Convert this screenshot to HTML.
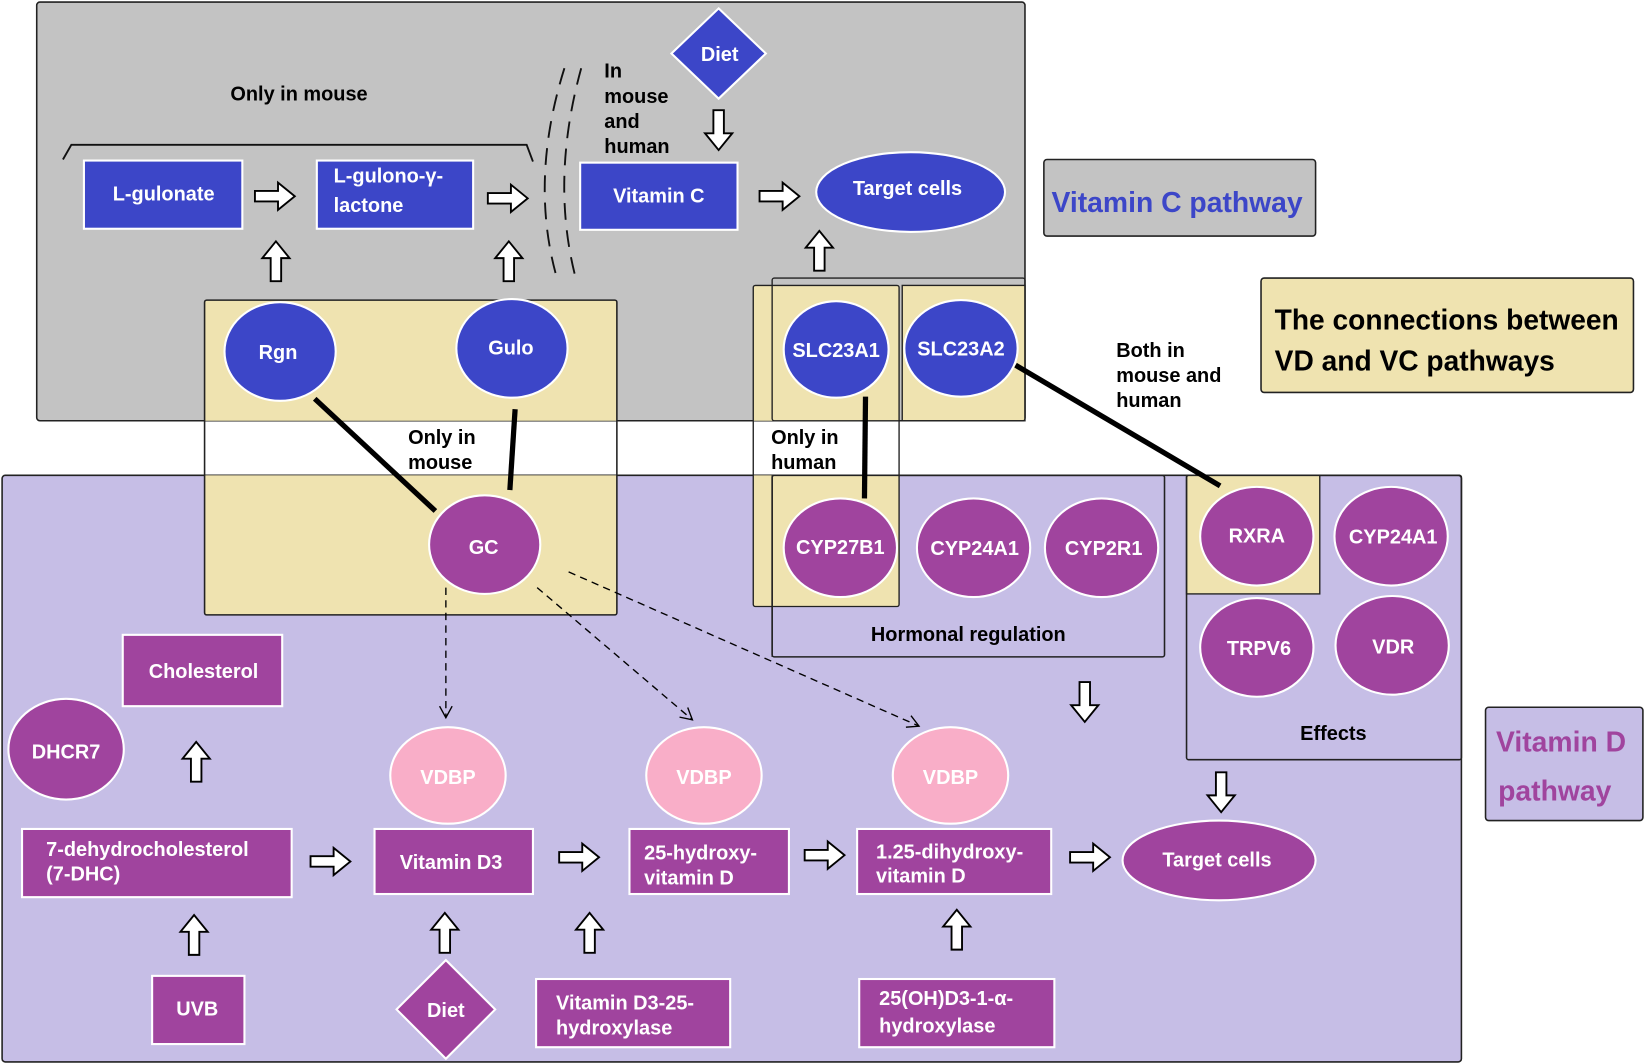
<!DOCTYPE html>
<html><head><meta charset="utf-8"><style>
html,body{margin:0;padding:0;background:#fff}
svg{display:block}
text{font-family:"Liberation Sans",Arial,sans-serif;font-weight:bold}
</style></head><body>
<svg width="1645" height="1064" viewBox="0 0 1568 1014" preserveAspectRatio="none" xmlns="http://www.w3.org/2000/svg">
<defs>
<g id="ar"><path d="M0,-5 H22 V-13 L38,0 L22,13 V5 H0 Z" fill="#fff" stroke="#000" stroke-width="1.8"/></g>
<marker id="mk" markerWidth="14" markerHeight="14" refX="12" refY="7" orient="auto" markerUnits="userSpaceOnUse"><path d="M1,1 L12,7 L1,13" fill="none" stroke="#000" stroke-width="1.3"/></marker>
</defs>
<rect x="35" y="2" width="942" height="399" rx="3" fill="#c3c3c3" stroke="#222" stroke-width="1.5"/>
<rect x="2" y="453" width="1391" height="559" rx="3" fill="#c6bee6" stroke="#222" stroke-width="1.5"/>
<rect x="195" y="286" width="393" height="115" fill="#efe3b0"/>
<rect x="195" y="453" width="393" height="133" fill="#efe3b0"/>
<rect x="195" y="286" width="393" height="300" rx="2" fill="none" stroke="#222" stroke-width="1.5"/>
<rect x="718" y="272" width="139" height="129" fill="#efe3b0"/>
<rect x="718" y="453" width="139" height="125" fill="#efe3b0"/>
<rect x="860" y="272" width="117" height="129" fill="#efe3b0"/>
<rect x="718" y="272" width="139" height="306" rx="2" fill="none" stroke="#222" stroke-width="1.3"/>
<rect x="736" y="265" width="241" height="136" rx="2" fill="none" stroke="#222" stroke-width="1.3"/>
<rect x="860" y="272" width="117" height="129" fill="none" stroke="#222" stroke-width="1.3"/>
<rect x="736" y="453" width="374" height="173" rx="2" fill="none" stroke="#222" stroke-width="1.5"/>
<line x1="736" y1="453" x2="736" y2="626" stroke="#222" stroke-width="1.3"/>
<rect x="1131" y="453" width="127" height="113" fill="#efe3b0" stroke="#222" stroke-width="1.3"/>
<rect x="1131" y="453" width="262" height="271" rx="2" fill="none" stroke="#222" stroke-width="1.5"/>
<rect x="995" y="152" width="259" height="73" rx="3" fill="#c3c3c3" stroke="#222" stroke-width="1.5"/>
<text x="1122" y="202" font-size="27" fill="#3c46c8" text-anchor="middle">Vitamin C pathway</text>
<rect x="1202" y="265" width="355" height="109" rx="3" fill="#efe3b0" stroke="#222" stroke-width="1.5"/>
<text x="1215" y="314" font-size="27" fill="#000" textLength="328" lengthAdjust="spacingAndGlyphs">The connections between</text>
<text x="1215" y="353" font-size="27" fill="#000" textLength="267" lengthAdjust="spacingAndGlyphs">VD and VC pathways</text>
<rect x="1416" y="674" width="150" height="108" rx="3" fill="#c6bee6" stroke="#222" stroke-width="1.5"/>
<text x="1426" y="716" font-size="27" fill="#a0449e">Vitamin D</text>
<text x="1428" y="763" font-size="27" fill="#a0449e">pathway</text>
<text x="285" y="96" font-size="19" text-anchor="middle">Only in mouse</text>
<text x="576" y="74" font-size="19">In</text>
<text x="576" y="98" font-size="19">mouse</text>
<text x="576" y="122" font-size="19">and</text>
<text x="576" y="146" font-size="19">human</text>
<text x="389" y="423" font-size="19">Only in</text>
<text x="389" y="447" font-size="19">mouse</text>
<text x="735" y="423" font-size="19">Only in</text>
<text x="735" y="447" font-size="19">human</text>
<text x="1064" y="340" font-size="19">Both in</text>
<text x="1064" y="364" font-size="19">mouse and</text>
<text x="1064" y="388" font-size="19">human</text>
<text x="923" y="611" font-size="19" text-anchor="middle">Hormonal regulation</text>
<text x="1271" y="705" font-size="19" text-anchor="middle">Effects</text>
<polyline points="60,152 68,138 502,138 508,154" fill="none" stroke="#111" stroke-width="1.8"/>
<path d="M538,65 Q505,170 530,262" fill="none" stroke="#111" stroke-width="1.8" stroke-dasharray="16,10"/>
<path d="M554,65 Q525,170 548,262" fill="none" stroke="#111" stroke-width="1.8" stroke-dasharray="16,10"/>
<g stroke="#000" stroke-width="5">
<line x1="300" y1="380" x2="415" y2="487"/>
<line x1="491" y1="390" x2="486" y2="467"/>
<line x1="825" y1="378" x2="824" y2="475"/>
<line x1="968" y1="348" x2="1163" y2="463"/>
</g>
<g stroke="#000" stroke-width="1.3" stroke-dasharray="7,5" fill="none" marker-end="url(#mk)">
<line x1="425" y1="560" x2="425" y2="684"/>
<line x1="512" y1="560" x2="660" y2="686"/>
<line x1="542" y1="545" x2="876" y2="692"/>
</g>
<g fill="#3c46c8" stroke="#fff" stroke-width="2">
<rect x="80" y="153" width="151" height="65"/>
<rect x="302" y="153" width="149" height="65"/>
<rect x="553" y="155" width="150" height="64"/>
<ellipse cx="868" cy="183" rx="90" ry="38"/>
<polygon points="685,8 730,51 685,94 640,51"/>
<ellipse cx="267" cy="335" rx="53" ry="47"/>
<ellipse cx="488" cy="332" rx="53" ry="47"/>
<ellipse cx="797" cy="333" rx="50" ry="46"/>
<ellipse cx="916" cy="332" rx="54" ry="46"/>
</g>
<g fill="#a0449e" stroke="#fff" stroke-width="2">
<ellipse cx="462" cy="519" rx="53" ry="47"/>
<ellipse cx="801" cy="522" rx="54" ry="47"/>
<ellipse cx="928" cy="522" rx="54" ry="47"/>
<ellipse cx="1050" cy="522" rx="54" ry="47"/>
<ellipse cx="1198" cy="511" rx="54" ry="47"/>
<ellipse cx="1326" cy="511" rx="54" ry="47"/>
<ellipse cx="1198" cy="617" rx="54" ry="47"/>
<ellipse cx="1327" cy="615" rx="54" ry="47"/>
<ellipse cx="63" cy="714" rx="55" ry="48"/>
<rect x="117" y="605" width="152" height="68"/>
<rect x="21" y="790" width="257" height="65"/>
<rect x="357" y="790" width="151" height="62"/>
<rect x="600" y="790" width="152" height="62"/>
<rect x="817" y="790" width="185" height="62"/>
<ellipse cx="1162" cy="820" rx="92" ry="38"/>
<rect x="145" y="930" width="88" height="65"/>
<polygon points="425,915 472,962 425,1009 378,962"/>
<rect x="511" y="933" width="185" height="65"/>
<rect x="819" y="933" width="186" height="65"/>
</g>
<g fill="#f9aec8" stroke="#fff" stroke-width="2">
<ellipse cx="427" cy="739" rx="55" ry="46"/>
<ellipse cx="671" cy="739" rx="55" ry="46"/>
<ellipse cx="906" cy="739" rx="55" ry="46"/>
</g>
<g fill="#fff" font-size="19" text-anchor="middle">
<text x="156" y="191">L-gulonate</text>
<text x="318" y="174" text-anchor="start">L-gulono-γ-</text>
<text x="318" y="202" text-anchor="start">lactone</text>
<text x="628" y="193">Vitamin C</text>
<text x="865" y="186">Target cells</text>
<text x="686" y="58">Diet</text>
<text x="265" y="342">Rgn</text>
<text x="487" y="338">Gulo</text>
<text x="797" y="340">SLC23A1</text>
<text x="916" y="339">SLC23A2</text>
<text x="461" y="528">GC</text>
<text x="801" y="528">CYP27B1</text>
<text x="929" y="529">CYP24A1</text>
<text x="1052" y="529">CYP2R1</text>
<text x="1198" y="517">RXRA</text>
<text x="1328" y="518">CYP24A1</text>
<text x="1200" y="624">TRPV6</text>
<text x="1328" y="623">VDR</text>
<text x="63" y="723">DHCR7</text>
<text x="194" y="646">Cholesterol</text>
<text x="44" y="816" text-anchor="start">7-dehydrocholesterol</text>
<text x="44" y="839" text-anchor="start">(7-DHC)</text>
<text x="430" y="828">Vitamin D3</text>
<text x="614" y="819" text-anchor="start">25-hydroxy-</text>
<text x="614" y="843" text-anchor="start">vitamin D</text>
<text x="835" y="818" text-anchor="start">1.25-dihydroxy-</text>
<text x="835" y="841" text-anchor="start">vitamin D</text>
<text x="1160" y="826">Target cells</text>
<text x="188" y="968">UVB</text>
<text x="425" y="969">Diet</text>
<text x="530" y="962" text-anchor="start">Vitamin D3-25-</text>
<text x="530" y="986" text-anchor="start">hydroxylase</text>
<text x="838" y="958" text-anchor="start">25(OH)D3-1-α-</text>
<text x="838" y="984" text-anchor="start">hydroxylase</text>
<text x="427" y="747">VDBP</text>
<text x="671" y="747">VDBP</text>
<text x="906" y="747">VDBP</text>
</g>
<use href="#ar" transform="translate(243,187)"/>
<use href="#ar" transform="translate(465,189)"/>
<use href="#ar" transform="translate(724,187)"/>
<use href="#ar" transform="translate(296,821)"/>
<use href="#ar" transform="translate(533,817)"/>
<use href="#ar" transform="translate(767,815)"/>
<use href="#ar" transform="translate(1020,817)"/>
<use href="#ar" transform="translate(263,268) rotate(-90)"/>
<use href="#ar" transform="translate(485,268) rotate(-90)"/>
<use href="#ar" transform="translate(781,258) rotate(-90)"/>
<use href="#ar" transform="translate(187,745) rotate(-90)"/>
<use href="#ar" transform="translate(185,910) rotate(-90)"/>
<use href="#ar" transform="translate(424,908) rotate(-90)"/>
<use href="#ar" transform="translate(562,908) rotate(-90)"/>
<use href="#ar" transform="translate(912,905) rotate(-90)"/>
<use href="#ar" transform="translate(685,105) rotate(90)"/>
<use href="#ar" transform="translate(1034,650) rotate(90)"/>
<use href="#ar" transform="translate(1164,736) rotate(90)"/>
</svg>
</body></html>
